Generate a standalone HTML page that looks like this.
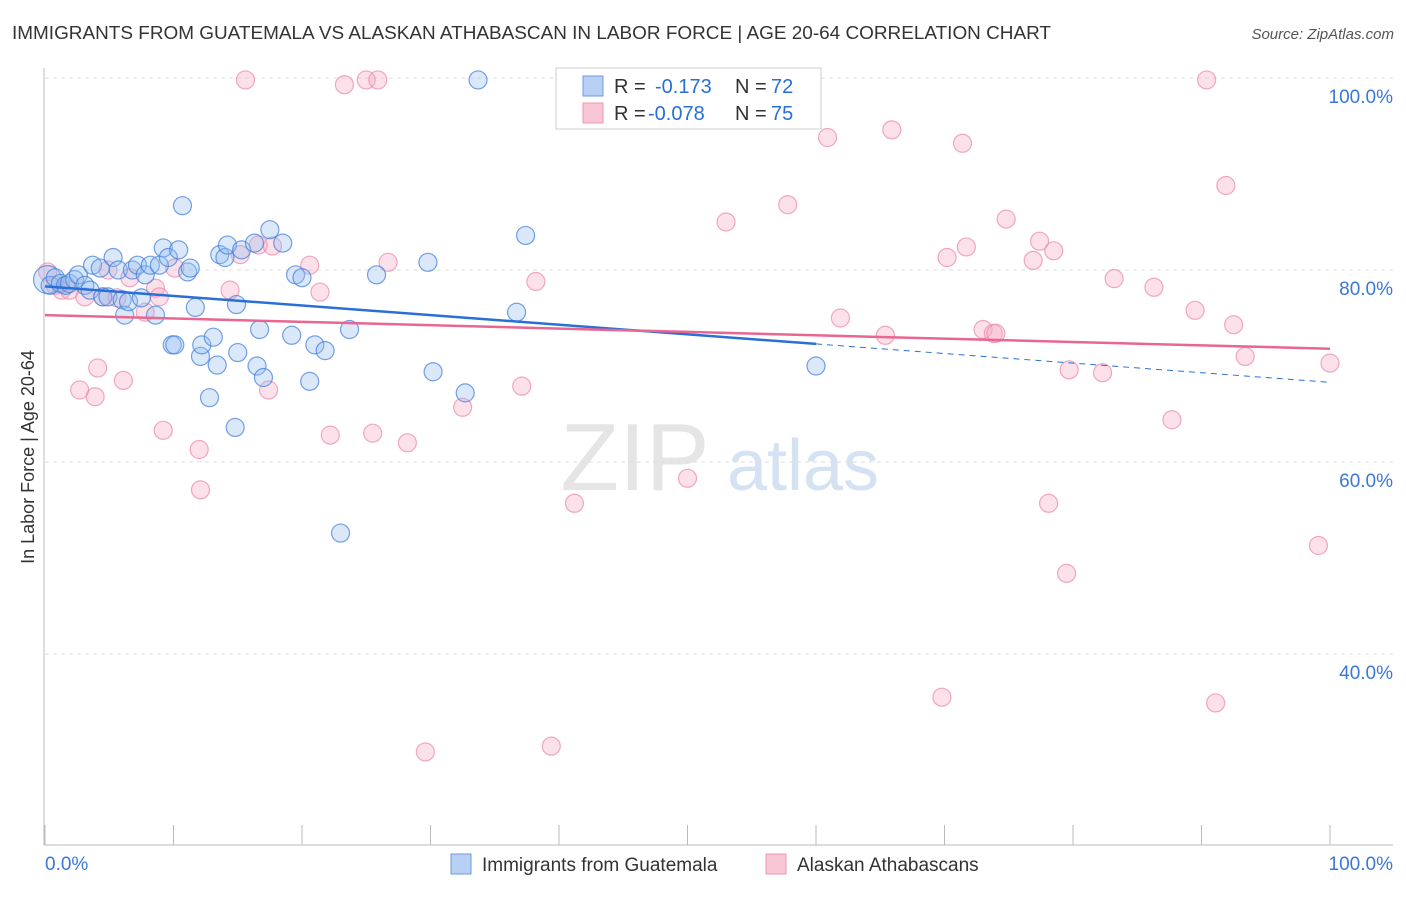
<!DOCTYPE html>
<html><head><meta charset="utf-8"><style>
body{margin:0;background:#fff;font-family:"Liberation Sans",sans-serif}
svg text{font-family:"Liberation Sans",sans-serif}
</style></head><body>
<svg id="chart" width="1406" height="892" viewBox="0 0 1406 892" xmlns="http://www.w3.org/2000/svg">
<text x="12" y="39" font-size="18" fill="#333" textLength="1039" lengthAdjust="spacingAndGlyphs">IMMIGRANTS FROM GUATEMALA VS ALASKAN ATHABASCAN IN LABOR FORCE | AGE 20-64 CORRELATION CHART</text>
<text x="1394" y="39" font-size="15" fill="#555" text-anchor="end" font-style="italic">Source: ZipAtlas.com</text>
<g>
<text x="635" y="490" font-size="96" fill="#d4d4d4" font-family="Liberation Serif" text-anchor="middle" opacity="0.6">ZIP</text>
<text x="803" y="490" font-size="72" fill="#b9d0ec" text-anchor="middle" opacity="0.6">atlas</text>
</g>
<g id="grid"></g>
<g id="axes"></g>
<g id="marks"></g>
<text transform="translate(34,457) rotate(-90)" font-size="18" fill="#333" text-anchor="middle">In Labor Force | Age 20-64</text>
<g>
<rect x="556" y="68" width="265" height="61" fill="#fff" stroke="#ccc"/>
<rect x="583" y="76" width="20" height="20" fill="#b7d0f3" stroke="#6c9be0"/>
<text x="614" y="93" font-size="20" fill="#333">R = </text><text x="655" y="93" font-size="20" fill="#2a6fd6">-0.173</text>
<text x="735" y="93" font-size="20" fill="#333">N = </text><text x="771" y="93" font-size="20" fill="#2a6fd6">72</text>
<rect x="583" y="103" width="20" height="20" fill="#f9c6d5" stroke="#ec97b2"/>
<text x="614" y="120" font-size="20" fill="#333">R = </text><text x="648" y="120" font-size="20" fill="#2a6fd6">-0.078</text>
<text x="735" y="120" font-size="20" fill="#333">N = </text><text x="771" y="120" font-size="20" fill="#2a6fd6">75</text>
</g>
<g>
<rect x="451" y="854" width="20" height="20" fill="#b7d0f3" stroke="#6c9be0"/>
<text x="482" y="871" font-size="19" fill="#333">Immigrants from Guatemala</text>
<rect x="766" y="854" width="20" height="20" fill="#f9c6d5" stroke="#ec97b2"/>
<text x="797" y="871" font-size="19" fill="#333">Alaskan Athabascans</text>
</g>
</svg>
<script>
const yTicks=[40,60,80,100];
const yTickLabels=["40.0%","60.0%","80.0%","100.0%"];
const xTicks=[0,10,20,30,40,50,60,70,80,90,100];
const blueX=[0.2,0.4,0.8,1.2,1.6,1.9,2.3,2.6,3.1,3.5,3.7,4.3,4.5,4.9,5.3,5.7,6.0,6.2,6.5,6.8,7.2,7.5,7.8,8.2,8.6,8.9,9.2,9.6,9.9,10.1,10.4,10.7,11.1,11.3,11.7,12.1,12.2,12.8,13.1,13.4,13.6,14.0,14.2,14.8,14.9,15.0,15.3,16.3,16.5,16.7,17.0,17.5,18.5,19.2,19.5,20.0,20.6,21.0,21.8,23.0,23.7,25.8,29.8,30.2,32.7,33.7,36.7,37.4,60.0];
const blueY=[79.0,78.4,79.2,78.6,78.4,78.6,79.0,79.5,78.4,77.9,80.5,80.2,77.2,77.2,81.3,80.0,76.9,75.3,76.7,80.0,80.5,77.1,79.5,80.5,75.3,80.5,82.3,81.3,72.2,72.2,82.1,86.7,79.8,80.2,76.1,71.0,72.2,66.7,73.0,70.1,81.6,81.3,82.6,63.6,76.4,71.4,82.1,82.8,70.0,73.8,68.8,84.2,82.8,73.2,79.5,79.2,68.4,72.2,71.6,52.6,73.8,79.5,80.8,69.4,67.2,99.8,75.6,83.6,70.0];
const pinkX=[0.2,0.8,1.3,1.9,2.7,3.1,3.9,4.1,4.5,4.9,5.6,6.1,6.6,7.8,8.6,8.9,9.2,10.1,12.0,12.1,14.4,15.2,15.6,16.6,17.4,17.7,20.6,21.4,22.2,23.3,25.0,25.9,25.5,26.7,28.2,29.6,32.5,37.1,38.2,39.4,41.2,50.0,53.0,57.8,60.9,61.9,65.4,65.9,69.8,70.2,71.4,71.7,73.0,73.8,74.0,74.8,76.9,77.4,78.1,78.5,79.5,79.7,82.3,83.2,86.3,87.7,89.5,90.4,91.1,91.9,92.5,93.4,99.1,100];
const pinkY=[79.8,78.4,77.9,77.9,67.5,77.2,66.8,69.8,77.2,80.0,77.1,68.5,79.2,75.6,78.1,77.2,63.3,80.2,61.3,57.1,77.9,81.6,99.8,82.6,67.5,82.5,80.5,77.7,62.8,99.3,99.8,99.8,63.0,80.8,62.0,29.8,65.7,67.9,78.8,30.4,55.7,58.3,85.0,86.8,93.8,75.0,73.2,94.6,35.5,81.3,93.2,82.4,73.8,73.4,73.4,85.3,81.0,83.0,55.7,82.0,48.4,69.6,69.3,79.1,78.2,64.4,75.8,99.8,34.9,88.8,74.3,71.0,51.3,70.3];
const blueTrend=[78.3,72.3,68.3];
const blueTrendX=[0,60,100];
const pinkTrend=[75.3,71.8];
const pinkTrendX=[0,100];

const NS="http://www.w3.org/2000/svg";
const sx=v=>45+v*12.85;
const sy=v=>78+(100-v)*9.6;
function mk(tag,attrs,parent){const e=document.createElementNS(NS,tag);for(const k in attrs)e.setAttribute(k,attrs[k]);parent.appendChild(e);return e;}
const grid=document.getElementById('grid'),axes=document.getElementById('axes'),marks=document.getElementById('marks');
yTicks.forEach((t,i)=>{
  const l=mk('line',{x1:45,x2:1393,y1:sy(t),y2:sy(t),stroke:'#ddd','stroke-dasharray':'4,4'},grid);
  
  
  const tx=mk('text',{x:1393,y:sy(t)+25,'font-size':19,fill:'#3a78d8','text-anchor':'end'},axes);
  tx.textContent=yTickLabels[i];
  
  
});
let a=mk('line',{x1:44,x2:44,y1:68,y2:845,stroke:'#bbb'},axes);


a=mk('line',{x1:44,x2:1393,y1:845,y2:845,stroke:'#bbb'},axes);


xTicks.forEach(t=>{
  const l=mk('line',{x1:sx(t),x2:sx(t),y1:825,y2:845,stroke:'#bbb'},axes);
  
  
});
let xl=mk('text',{x:45,y:870,'font-size':19,fill:'#3a78d8'},axes);xl.textContent='0.0%';


xl=mk('text',{x:1393,y:870,'font-size':19,fill:'#3a78d8','text-anchor':'end'},axes);xl.textContent='100.0%';



pinkX.forEach((x,i)=>{
  const c=mk('circle',{cx:sx(x),cy:sy(pinkY[i]),r:9,fill:'rgba(246,170,195,0.35)',stroke:'rgba(236,140,172,0.75)','stroke-width':1.2},marks);
  
  
});
blueX.forEach((x,i)=>{
  const c=mk('circle',{cx:sx(x),cy:sy(blueY[i]),r:i===0?14:9,fill:'rgba(150,190,240,0.35)',stroke:'rgba(70,130,220,0.75)','stroke-width':1.2},marks);
  
  
});
let t=mk('line',{x1:sx(blueTrendX[0]),y1:sy(blueTrend[0]),x2:sx(blueTrendX[1]),y2:sy(blueTrend[1]),stroke:'#2a6fd6','stroke-width':2.5},marks);


t=mk('line',{x1:sx(blueTrendX[1]),y1:sy(blueTrend[1]),x2:sx(blueTrendX[2]),y2:sy(blueTrend[2]),stroke:'#2a6fd6','stroke-width':1,'stroke-dasharray':'6,5'},marks);


t=mk('line',{x1:sx(pinkTrendX[0]),y1:sy(pinkTrend[0]),x2:sx(pinkTrendX[1]),y2:sy(pinkTrend[1]),stroke:'#e8668f','stroke-width':2.5},marks);


</script>
</body></html>
